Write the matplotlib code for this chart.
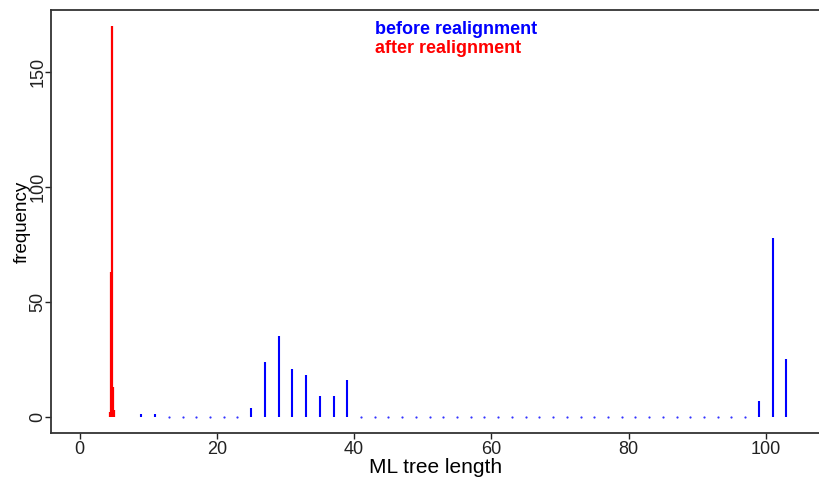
import numpy as np
import matplotlib
matplotlib.use("Agg")
from matplotlib import pyplot as plt

# ML tree length counts, before realignment (blue)
before_len = [9, 11, 13, 15, 17, 19, 21, 23, 25, 27, 29, 31, 33, 35, 37, 39,
              41, 43, 45, 47, 49, 51, 53, 55, 57, 59, 61, 63, 65, 67, 69, 71,
              73, 75, 77, 79, 81, 83, 85, 87, 89, 91, 93, 95, 97, 99, 101, 103]
before_freq = [1, 1, 0, 0, 0, 0, 0, 0, 4, 24, 35, 21, 18, 9, 9, 16,
               0, 0, 0, 0, 0, 0, 0, 0, 0, 0, 0, 0, 0, 0, 0, 0,
               0, 0, 0, 0, 0, 0, 0, 0, 0, 0, 0, 0, 0, 7, 78, 25]

# after realignment (red)
after_len = [4.45, 4.55, 4.7, 4.85, 4.95]
after_freq = [2, 63, 170, 13, 3]

plt.rcParams['font.family'] = ['Liberation Sans', 'DejaVu Sans']

fig = plt.figure(figsize=(8.2, 4.82), dpi=100)
ax = fig.add_axes([0.062, 0.102, 0.938, 0.877])

bl = np.array(before_len)
bf = np.array(before_freq)
nz = bf > 0
ax.vlines(bl[nz], 0, bf[nz], color='#0000ff', linewidth=1.5)
ax.plot(bl[~nz], bf[~nz], 'o', color='#3333ff', markersize=1.6, markeredgewidth=0)

ax.vlines(after_len, 0, after_freq, color='#ff0000', linewidth=1.6)

ax.text(43.1, 168.7, "before realignment", color='#0000ff', fontsize=13,
        fontweight='bold', va='center', ha='left')
ax.text(43.1, 160.4, "after realignment", color='#ff0000', fontsize=13,
        fontweight='bold', va='center', ha='left')

ax.set_xlim(-4.2, 107.9)
ax.set_ylim(-7, 177)
ax.set_xticks([0, 20, 40, 60, 80, 100])
ax.set_yticks([0, 50, 100, 150])
ax.tick_params(direction='out', length=4, width=1, labelsize=13, colors='#222222')
ax.tick_params(axis='y', pad=-1)
ax.tick_params(axis='x', pad=2)
for lab in ax.get_yticklabels():
    lab.set_rotation(90)
    lab.set_va('center')

ax.set_xlabel("ML tree length", fontsize=15, labelpad=0)
ax.set_ylabel("frequency", fontsize=13.5, labelpad=-1)

for s in ['left', 'bottom', 'top']:
    ax.spines[s].set_linewidth(1.3)
    ax.spines[s].set_color('#333333')
ax.spines['right'].set_visible(False)

fig.savefig("out.png", dpi=100)
